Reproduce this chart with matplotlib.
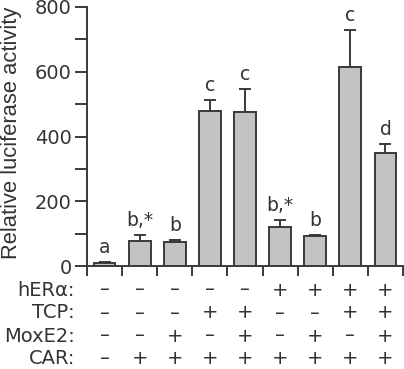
import matplotlib
matplotlib.use("Agg")
import matplotlib.pyplot as plt
from matplotlib.ticker import MultipleLocator

plt.rcParams['font.family'] = ['DejaVu Sans']

values = [10, 78, 75, 479, 476, 120, 93, 614, 350]
errors = [3, 17, 6, 35, 70, 23, 3, 115, 27]
letters = ["a", "b,*", "b", "c", "c", "b,*", "b", "c", "d"]
row_labels = ["hERα:", "TCP:", "MoxE2:", "CAR:"]
row_signs = [
    ["-", "-", "-", "-", "-", "+", "+", "+", "+"],
    ["-", "-", "-", "+", "+", "-", "-", "+", "+"],
    ["-", "-", "+", "-", "+", "-", "+", "-", "+"],
    ["-", "+", "+", "+", "+", "+", "+", "+", "+"],
]
yticks = [0, 200, 400, 600, 800]

edge = "#3a3a3a"
tc = "#333333"
W, H = 404, 369
fig = plt.figure(figsize=(W/100, H/100), dpi=100)
ax = fig.add_axes([87/W, 1-266/H, (403-87)/W, (266-7)/H])

x = list(range(len(values)))
ax.bar(x, values, width=0.62, color="#c3c3c3", edgecolor=edge, linewidth=1.4, zorder=2)
ax.errorbar(x, values, yerr=[[0]*len(errors), errors], fmt="none", ecolor=edge,
            elinewidth=1.4, capsize=4, capthick=1.4, zorder=1)
for xi, v, e, lab in zip(x, values, errors, letters):
    ax.annotate(lab, (xi, v + e), xytext=(0, 6.5), textcoords="offset points",
                ha="center", va="baseline", fontsize=13.5, color=tc)

ax.set_xlim(-0.5, 8.5)
ax.set_ylim(0, 800)
ax.set_yticks(yticks)
ax.set_yticklabels([str(t) for t in yticks], fontsize=14, color=tc)
ax.yaxis.set_minor_locator(MultipleLocator(100))
ax.tick_params(axis="y", which="both", direction="out", length=8.5, width=1.4, color=edge, pad=2.4)
ax.set_xticks([i - 0.5 for i in range(len(values) + 1)])
ax.set_xticklabels([])
ax.tick_params(axis="x", direction="out", length=7, width=1.4, color=edge)
for s in ["top", "right"]:
    ax.spines[s].set_visible(False)
for s in ["left", "bottom"]:
    ax.spines[s].set_linewidth(1.4)
    ax.spines[s].set_color(edge)

fig.text(12/W, 1-133/H, "Relative luciferase activity", rotation=90, ha="center",
         va="center", fontsize=15.8, color=tc, family="Liberation Sans")

trans = ax.get_xaxis_transform()
axh = 266 - 7
row_base = [295.5, 318.5, 341.5, 364.3]
for rb, lab, signs in zip(row_base, row_labels, row_signs):
    ry = (266 - rb) / axh
    ax.text(-0.842, ry, lab, ha="right", va="baseline", fontsize=14, color=tc,
            transform=trans, clip_on=False)
    for xi, s in zip(x, signs):
        ax.text(xi, ry, "–" if s == "-" else "+", ha="center", va="baseline", fontsize=14,
                color=tc, transform=trans, clip_on=False)

fig.savefig("out.png", dpi=100)
